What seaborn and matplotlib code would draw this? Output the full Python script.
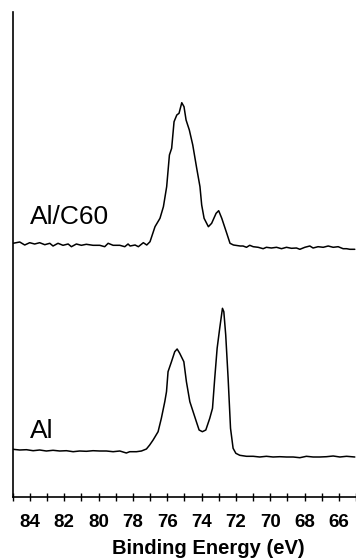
import numpy as np
import pandas as pd
import matplotlib
matplotlib.use("Agg")
import matplotlib.pyplot as plt
import seaborn as sns

# ---- data ----
c60_energy = [84.98, 84.59, 84.30, 84.01, 83.72, 83.43, 83.13, 82.84, 82.65, 82.36,
              82.07, 81.77, 81.58, 81.29, 81.00, 80.71, 80.32, 79.93, 79.64, 79.44,
              79.15, 78.76, 78.47, 78.28,
              78.16, 77.87, 77.68, 77.39, 77.19, 77.00, 76.71, 76.42, 76.22, 76.03,
              75.87, 75.74, 75.60, 75.44, 75.31, 75.15, 75.02, 74.90, 74.71, 74.51,
              74.28, 74.09, 73.99, 73.85, 73.60, 73.41, 73.15, 73.00, 72.82, 72.53,
              72.34, 72.14, 71.75,
              71.58, 71.38, 71.19, 70.99, 70.70, 70.41, 70.22, 69.93, 69.63, 69.34,
              69.05, 68.76, 68.47, 68.27, 67.98, 67.69, 67.50, 67.21, 66.91, 66.62,
              66.33, 66.04, 65.75, 65.55, 65.36, 65.07]
c60_intensity = [3.7, 5.0, 2.0, 4.3, 3.0, 4.3, 2.3, 3.7, 1.0, 3.7,
                 1.7, 3.0, 0.3, 3.0, 1.7, 2.7, 1.7, 1.7, 0.3, 3.7,
                 1.7, 1.7, 0.3, 3.0,
                 1.0, 2.0, 0.3, 4.3, 2.0, 5.3, 20.3, 28.7, 40.3, 60.3,
                 92.0, 98.7, 125.3, 132.0, 133.7, 144.3, 140.3, 127.0, 117.0, 102.0,
                 78.7, 60.3, 42.0, 28.7, 20.3, 23.7, 33.7, 36.3, 28.7, 13.7,
                 3.7, 2.0, 1.0,
                 1.0, -0.3, 1.7, 0.3, -0.3, -1.7, -0.3, -1.0, -0.3, -1.7,
                 -0.3, -1.3, -1.0, -2.3, -0.3, 1.0, -1.0, 0.3, -0.3, 1.0,
                 -0.3, 0.3, -1.7, -1.7, -2.3, -2.3]

al_energy = [84.98, 84.59, 84.20, 83.81, 83.43, 83.04, 82.65, 82.26, 81.87, 81.48,
             81.10, 80.71, 80.32, 79.93, 79.54, 79.15, 78.76, 78.38, 78.18, 77.79,
             77.50, 77.21, 77.02, 76.82, 76.53, 76.34, 76.14, 76.04, 75.95, 75.75,
             75.56, 75.42, 75.27, 75.03, 74.88, 74.68, 74.49, 74.30, 74.14, 73.95,
             73.75, 73.52, 73.36, 73.23, 73.09, 72.94, 72.78, 72.70, 72.59, 72.45,
             72.31, 72.16, 72.00, 71.77, 71.38, 70.99, 70.61, 70.22, 69.83, 69.44,
             69.05, 68.66, 68.27, 67.89, 67.50, 67.11, 66.72, 66.33, 65.94, 65.55,
             65.07]
al_intensity = [7.7, 7.0, 7.3, 6.3, 7.0, 6.0, 6.7, 6.0, 6.3, 5.3,
                6.0, 5.7, 6.3, 6.0, 6.0, 5.3, 6.0, 4.0, 5.3, 5.3,
                6.0, 8.0, 12.0, 17.0, 25.3, 38.7, 55.3, 65.3, 85.3, 95.3,
                105.3, 108.0, 103.7, 95.3, 75.3, 55.3, 45.3, 35.3, 27.0, 25.3,
                27.0, 38.7, 48.7, 78.7, 108.7, 128.7, 148.7, 145.3, 122.0, 78.7,
                28.7, 8.7, 3.7, 1.7, 0.7, 0.7, 0.0, 0.7, 0.0, 0.3,
                0.0, 0.0, -0.7, 0.7, 0.0, 0.0, 0.3, 1.0, 0.0, 0.7,
                0.0]

series_names = ["Al/C60", "Al"]
series_offsets = [250, 40]
tick_values = list(range(84, 65, -2))

# ---- build table ----
frames = []
for name, e, i, off in zip(series_names, [c60_energy, al_energy],
                           [c60_intensity, al_intensity], series_offsets):
    frames.append(pd.DataFrame({"energy": e,
                                "intensity": np.asarray(i) + off,
                                "sample": name}))
df = pd.concat(frames, ignore_index=True)

sns.set_theme(style="white")
plt.rcParams["font.family"] = ["Liberation Sans", "DejaVu Sans"]
plt.rcParams["text.color"] = "black"
plt.rcParams["axes.labelcolor"] = "black"
plt.rcParams["xtick.color"] = "black"

fig = plt.figure(figsize=(3.56, 5.60), dpi=100)
ax = fig.add_axes([12.7 / 356, 1 - 497 / 560, 1 - 12.7 / 356, (497 - 12) / 560])

for name in series_names:
    sub = df[df["sample"] == name]
    sns.lineplot(data=sub, x="energy", y="intensity", ax=ax, sort=False,
                 estimator=None, color="black", linewidth=1.1, legend=False)

ax.set_xlim(85, 65)
ax.set_ylim(0, 485)

for name, ytxt in zip(series_names, [280, 66]):
    ax.text(84.0, ytxt, name, fontsize=19, color="black", ha="left", va="center")

ax.set_xticks(list(range(85, 64, -1)))
ax.set_xticklabels([str(v) if v in tick_values else "" for v in range(85, 64, -1)],
                   fontsize=13.5, fontweight="bold", color="black")
ax.tick_params(axis="x", direction="inout", length=6, width=1, color="black",
               labelcolor="black", pad=9, bottom=True)
ax.set_yticks([])
ax.set_xlabel("Binding Energy (eV)", fontsize=14.5, fontweight="bold",
              labelpad=6, color="black")
ax.xaxis.label.set_x(0.569)
ax.set_ylabel("")

for s in ["top", "right"]:
    ax.spines[s].set_visible(False)
for s in ["left", "bottom"]:
    ax.spines[s].set_color("black")
    ax.spines[s].set_linewidth(1.2)

fig.savefig("out.png", dpi=100)
